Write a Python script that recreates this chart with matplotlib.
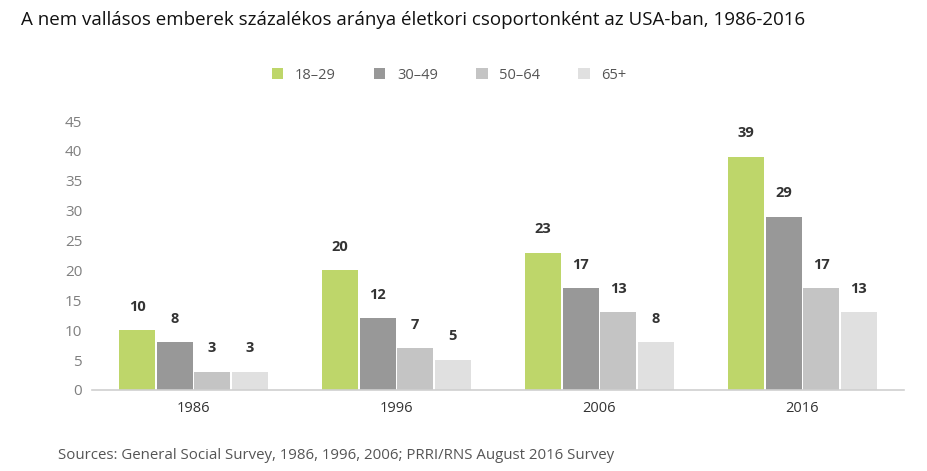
import numpy as np
import matplotlib.pyplot as plt

years = ["1986", "1996", "2006", "2016"]
groups = ["18–29", "30–49", "50–64", "65+"]
v18_29 = [10, 20, 23, 39]
v30_49 = [8, 12, 17, 29]
v50_64 = [3, 7, 13, 17]
v65 = [3, 5, 8, 13]
series = [v18_29, v30_49, v50_64, v65]
colors = ["#bed66a", "#989898", "#c4c4c4", "#e0e0e0"]

plt.rcParams['font.family'] = ['Open Sans', 'DejaVu Sans']

fig = plt.figure(figsize=(9.28, 4.71), dpi=100)
ax = fig.add_axes([0.099, 0.172, 0.875, 0.571])

x = np.arange(len(years))
w = 0.177
step = 0.185
for i, (vals, c, lab) in enumerate(zip(series, colors, groups)):
    pos = x + (i - 1.5) * step
    ax.bar(pos, vals, width=w, color=c, label=lab, zorder=2)
    for p, v in zip(pos, vals):
        ax.annotate(str(v), (p, v), xytext=(0, 17), textcoords='offset points',
                    ha='center', va='center', fontsize=10.5, fontweight='bold',
                    color='#333333')

ax.set_xlim(-0.5, 3.5)
ax.set_ylim(0, 45)
ax.set_yticks(range(0, 46, 5))
ax.set_xticks(x)
ax.set_xticklabels(years)
ax.tick_params(axis='y', length=0, labelsize=11, labelcolor='#7f7f7f', pad=7)
ax.tick_params(axis='x', length=0, labelsize=10.5, labelcolor='#333333', pad=8)
for s in ['top', 'right', 'left']:
    ax.spines[s].set_visible(False)
ax.spines['bottom'].set_color('#d0d0d0')
ax.spines['bottom'].set_linewidth(1.2)

fig.text(0.023, 0.958, "A nem vallásos emberek százalékos aránya életkori csoportonként az USA-ban, 1986-2016",
         fontsize=13.5, color='#111111', va='center', ha='left')

leg = fig.legend(loc='center', bbox_to_anchor=(0.484, 0.84), ncol=4, frameon=False,
                 fontsize=10.5, handlelength=0.8, handleheight=0.8, columnspacing=2.6,
                 handletextpad=0.8)
for t in leg.get_texts():
    t.set_color('#555555')

fig.text(0.062, 0.032, "Sources: General Social Survey, 1986, 1996, 2006; PRRI/RNS August 2016 Survey",
         fontsize=10.8, color='#555555', va='center', ha='left')

fig.savefig("out.png", dpi=100)
